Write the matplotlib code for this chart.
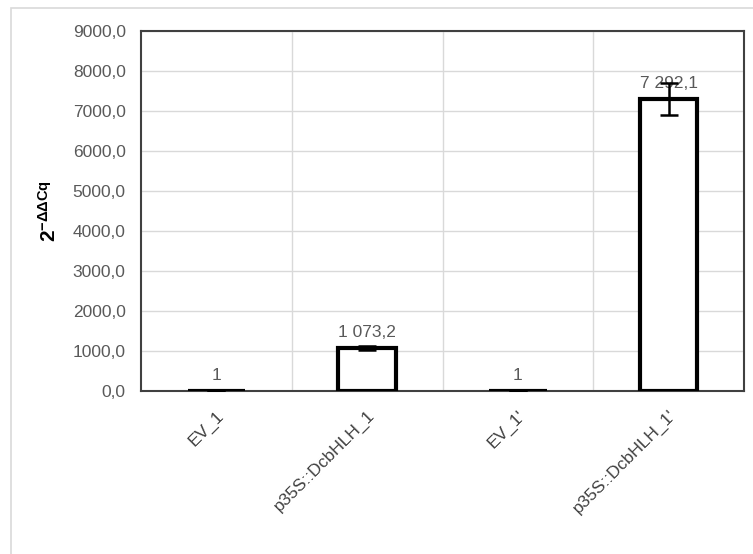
import matplotlib
matplotlib.use("Agg")
import matplotlib.pyplot as plt
from matplotlib.patches import Rectangle

plt.rcParams["font.family"] = ["Liberation Sans", "DejaVu Sans"]
plt.rcParams["mathtext.fontset"] = "custom"
plt.rcParams["mathtext.rm"] = "Liberation Sans"
plt.rcParams["mathtext.bf"] = "Liberation Sans:bold"

samples = ["EV_1", "p35S::DcbHLH_1", "EV_1'", "p35S::DcbHLH_1'"]
values = [1.0, 1073.2, 1.0, 7292.1]
errors = [0.0, 60.0, 0.0, 400.0]
labels = ["1", "1 073,2", "1", "7 292,1"]
yticks = [0, 1000, 2000, 3000, 4000, 5000, 6000, 7000, 8000, 9000]

fig = plt.figure(figsize=(7.53, 5.54), dpi=100)
ax = fig.add_axes([141 / 753, 1 - 391 / 554, 603 / 753, 360 / 554])

# outer chart-area border
fig.patches.append(Rectangle((11 / 753, -0.1), 1.0, 1 - 8 / 554 + 0.1,
                             transform=fig.transFigure, fill=False,
                             edgecolor="#d9d9d9", linewidth=1.2))

x = list(range(len(samples)))
ax.bar(x, values, width=0.38, color="white", edgecolor="black",
       linewidth=3.0, zorder=3)
ax.errorbar(x, values, yerr=errors, fmt="none", ecolor="black",
            elinewidth=1.8, capsize=6.5, capthick=1.8, zorder=4)

for xi, v, lab in zip(x, values, labels):
    ax.annotate(lab, (xi, v), xytext=(0, 6), textcoords="offset points",
                ha="center", va="bottom", fontsize=12.5, color="#595959")

ax.set_xlim(-0.5, 3.5)
ax.set_ylim(0, 9000)
ax.set_yticks(yticks)
ax.set_yticklabels([f"{t},0" for t in yticks], fontsize=12.5, color="#595959")
ax.set_xticks(x)
ax.set_xticklabels(samples, rotation=45, ha="right", rotation_mode="anchor",
                   fontsize=12.5, color="#404040")
ax.tick_params(axis="both", length=0)
ax.tick_params(axis="y", pad=11)
ax.tick_params(axis="x", pad=12)

ax.set_axisbelow(True)
ax.grid(axis="y", color="#d9d9d9", linewidth=1)
for b in [0.5, 1.5, 2.5]:
    ax.axvline(b, color="#d9d9d9", linewidth=1, zorder=0)
for s in ax.spines.values():
    s.set_color("#404040")
    s.set_linewidth(1.5)

ax.set_ylabel(r"$\mathbf{2^{-\Delta\Delta Cq}}$", fontsize=15, labelpad=9)

fig.savefig("out.png", dpi=100)
